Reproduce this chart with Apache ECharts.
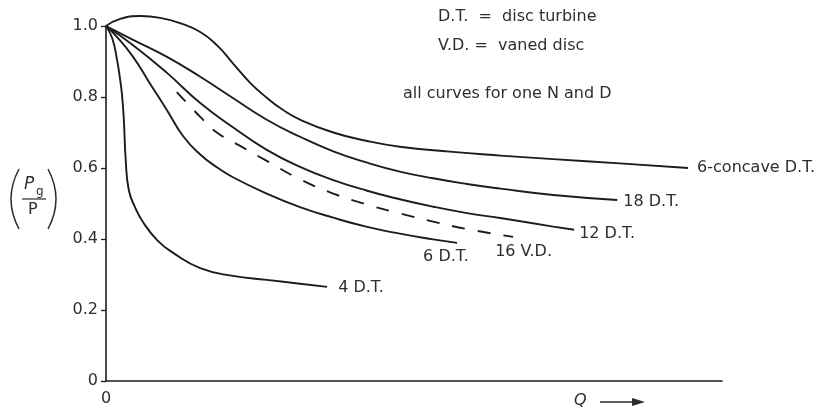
<!DOCTYPE html>
<html>
<head>
<meta charset="utf-8">
<script src="https://cdn.jsdelivr.net/npm/echarts@6/dist/echarts.min.js"></script>
<style>
  html, body { margin: 0; padding: 0; background: #ffffff; }
  #chart { width: 823px; height: 410px; }
</style>
</head>
<body>
<div id="chart"></div>
<script>
// Gassed power ratio Pg/P against gas flow Q for several impeller types.
// Each curve: [Q, Pg/P] pairs (Q on a relative 0-100 scale).
const concave6DT = [[0,1.0],[2.3,1.02],[5.5,1.028],[8.8,1.023],[12.0,1.008],[15.3,0.983],[18.0,0.946],[20.6,0.895],[23.4,0.840],[26.1,0.798],[28.7,0.764],[31.5,0.736],[36.9,0.700],[42.4,0.676],[47.7,0.660],[55.8,0.646],[64.0,0.635],[72.6,0.625],[83.4,0.613],[94.5,0.600]];
const dt18 = [[0,1.0],[4.4,0.961],[9.9,0.913],[15.3,0.857],[20.6,0.797],[26.1,0.736],[31.5,0.688],[36.9,0.647],[42.4,0.615],[47.7,0.590],[53.1,0.571],[58.6,0.555],[64.0,0.542],[72.6,0.524],[83.0,0.510]];
const dt12 = [[0,1.0],[4.4,0.946],[9.9,0.868],[15.3,0.783],[20.6,0.715],[26.1,0.651],[31.5,0.603],[36.9,0.566],[42.4,0.536],[47.7,0.512],[53.1,0.491],[58.6,0.473],[64.0,0.459],[72.6,0.435],[76.0,0.426]];
const vd16 = [[11.5,0.814],[15.3,0.744],[18.0,0.700],[22.2,0.658],[26.1,0.620],[31.5,0.568],[36.9,0.528],[42.4,0.497],[47.7,0.472],[53.1,0.449],[58.6,0.428],[66.1,0.406]];
const dt6 = [[0,1.0],[1.8,0.969],[4.4,0.913],[7.1,0.839],[9.9,0.763],[12.5,0.690],[15.3,0.638],[18.0,0.602],[20.6,0.574],[26.1,0.528],[31.5,0.490],[36.9,0.460],[42.4,0.434],[47.7,0.415],[53.1,0.399],[57.0,0.389]];
const dt4 = [[0,1.0],[1.0,0.966],[1.8,0.904],[2.3,0.848],[2.6,0.806],[2.9,0.735],[3.2,0.623],[3.7,0.538],[4.7,0.490],[6.0,0.448],[8.3,0.397],[10.9,0.361],[15.3,0.318],[20.6,0.296],[26.1,0.285],[31.5,0.274],[35.9,0.265]];

const curveNames = ['6-concave D.T.', '18 D.T.', '12 D.T.', '16 V.D.', '6 D.T.', '4 D.T.'];
const yTicks = [0, 0.2, 0.4, 0.6, 0.8, 1.0];
const notes = ['D.T.  =  disc turbine', 'V.D. =  vaned disc', 'all curves for one N and D'];

const FONT = 'DejaVu Sans';
const INK = '#1c1c1c';
const TEXT = '#2e2e2e';

function curve(name, data, labelOffset, dashed) {
  return {
    name: name,
    type: 'line',
    data: data,
    smooth: 0.5,
    symbol: 'none',
    clip: false,
    silent: true,
    lineStyle: { color: INK, width: 1.9, type: dashed ? [13, 13] : 'solid' },
    endLabel: {
      show: true,
      formatter: '{a}',
      fontFamily: FONT,
      fontSize: 16,
      color: TEXT,
      distance: 5,
      offset: labelOffset
    }
  };
}

const chart = echarts.init(document.getElementById('chart'), null, { renderer: 'canvas' });
chart.setOption({
  animation: false,
  backgroundColor: '#ffffff',
  grid: { left: 106, right: 101, top: 26, bottom: 29 },
  xAxis: {
    type: 'value', min: 0, max: 100, interval: 100,
    axisLine: { show: true, lineStyle: { color: INK, width: 1.6 } },
    axisTick: { show: false },
    splitLine: { show: false },
    axisLabel: {
      margin: 10, fontFamily: FONT, fontSize: 16, color: TEXT,
      formatter: v => (v === 0 ? '0' : '')
    }
  },
  yAxis: {
    type: 'value', min: 0, max: 1.0, interval: 0.2,
    axisLine: { show: true, lineStyle: { color: INK, width: 1.6 } },
    axisTick: { show: true, length: 5, lineStyle: { color: INK, width: 1.3 } },
    splitLine: { show: false },
    axisLabel: {
      margin: 8, fontFamily: FONT, fontSize: 16, color: TEXT,
      formatter: v => {
        const t = yTicks.find(k => Math.abs(k - v) < 1e-6);
        return t === 0 ? '0' : t.toFixed(1);
      }
    }
  },
  series: [
    curve(curveNames[0], concave6DT, [4, 0], false),
    curve(curveNames[1], dt18, [1, 2], false),
    curve(curveNames[2], dt12, [0, 4], false),
    curve(curveNames[3], vd16, [-23, 15], true),
    curve(curveNames[4], dt6, [-39, 14], false),
    curve(curveNames[5], dt4, [6, 1], false)
  ],
  graphic: [
    // key text
    { type: 'text', left: 438, top: 9, style: { text: notes[0], font: '16px "' + FONT + '"', fill: TEXT } },
    { type: 'text', left: 438, top: 38, style: { text: notes[1], font: '16px "' + FONT + '"', fill: TEXT } },
    { type: 'text', left: 403, top: 86, style: { text: notes[2], font: '16px "' + FONT + '"', fill: TEXT } },
    // x-axis name with arrow
    { type: 'text', left: 574, top: 393, style: { text: 'Q', font: 'italic 16px "' + FONT + '"', fill: TEXT } },
    { type: 'line', shape: { x1: 600, y1: 402, x2: 636, y2: 402 }, style: { stroke: TEXT, lineWidth: 1.3 } },
    { type: 'polygon', shape: { points: [[645, 402], [632, 398], [632, 406]] }, style: { fill: TEXT } },
    // y-axis name: (Pg / P)
    { type: 'bezierCurve', shape: { x1: 19, y1: 169, cpx1: 3, cpy1: 199, x2: 19, y2: 229 }, style: { stroke: TEXT, lineWidth: 1.5, fill: null } },
    { type: 'bezierCurve', shape: { x1: 48, y1: 169, cpx1: 64, cpy1: 199, x2: 48, y2: 229 }, style: { stroke: TEXT, lineWidth: 1.5, fill: null } },
    { type: 'text', left: 24, top: 176, style: { text: 'P', font: 'italic 17px "' + FONT + '"', fill: TEXT } },
    { type: 'text', left: 36, top: 186, style: { text: 'g', font: '12px "' + FONT + '"', fill: TEXT } },
    { type: 'line', shape: { x1: 22, y1: 199, x2: 46, y2: 199 }, style: { stroke: TEXT, lineWidth: 1.2 } },
    { type: 'text', left: 28, top: 202, style: { text: 'P', font: '16px "' + FONT + '"', fill: TEXT } }
  ]
});
</script>
</body>
</html>
